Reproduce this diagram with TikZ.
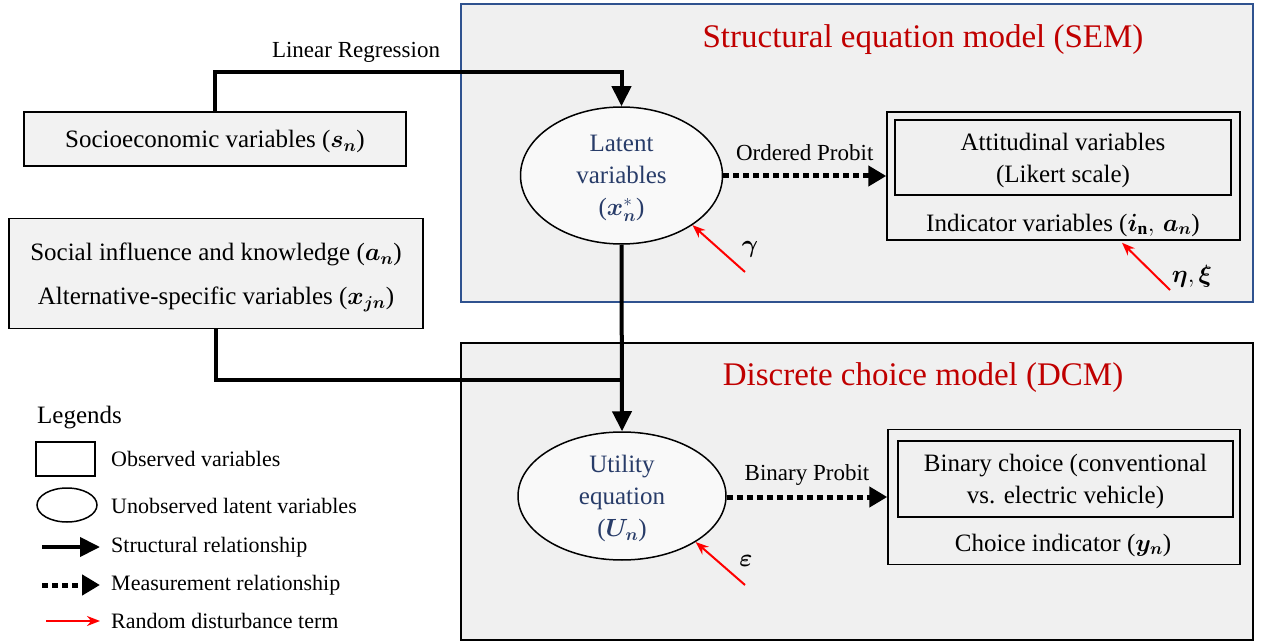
\documentclass[tikz,border=0pt]{standalone}
\usepackage{fontspec}
\setmainfont{Liberation Serif}
\usepackage{bm}
\usetikzlibrary{shapes.geometric,arrows.meta}
\definecolor{panelgray}{RGB}{240,240,240}
\definecolor{boxgray}{RGB}{242,242,242}
\definecolor{ellgray}{RGB}{249,249,249}
\definecolor{titlered}{RGB}{192,0,0}
\definecolor{semblue}{RGB}{47,82,143}
\definecolor{latentblue}{RGB}{40,60,105}
\tikzset{
    obsbox/.style={draw, fill=boxgray, line width=1.5pt, align=center, inner sep=0pt, text depth=-9pt},
    latentvar/.style={ellipse, draw, fill=ellgray, line width=1.5pt, align=center, text=latentblue, inner sep=0pt, text depth=-7pt},
    structural/.style={line width=4pt, -{Triangle[length=20pt,width=19pt]}},
    measurement/.style={line width=5pt, dash pattern=on 6pt off 4pt, -{Triangle[length=18pt,width=20pt]}},
    disturbance/.style={red, line width=2pt, -{Stealth[length=13pt,width=10pt]}},
    smalltext/.style={font=\fontsize{23}{27}\selectfont},
    legtext/.style={font=\fontsize{22}{26}\selectfont, anchor=west, inner sep=0pt},
    paneltitle/.style={text=titlered, font=\fontsize{33}{38}\selectfont}
}
\begin{document}
\begin{tikzpicture}[x=1pt, y=-1pt, font=\fontsize{25}{32}\selectfont]
        \useasboundingbox (0,0) rectangle (1261,644);
        \draw[semblue, line width=1.5pt, fill=panelgray] (461,4) rectangle (1253,302);
        \draw[line width=1.5pt, fill=panelgray] (461,343) rectangle (1253,640);
        \node[paneltitle] (semtitle) at (923,40) {Structural equation model (SEM)};
        \node[paneltitle] (dcmtitle) at (923,378) {Discrete choice model (DCM)};

        \node[obsbox, minimum width=382pt, minimum height=54pt] (socio) at (215,139) {Socioeconomic variables ($\bm{s}_{\bm{n}}$)};
        \node[obsbox, minimum width=414pt, minimum height=110pt, font=\fontsize{25}{44}\selectfont, text depth=-13pt] (social) at (216,273.5)
            {Social influence and knowledge ($\bm{a}_{\bm{n}}$)\\Alternative-specific variables ($\bm{x}_{\bm{jn}}$)};

        \node[latentvar, minimum width=202pt, minimum height=137pt] (latent) at (621.5,175.5) {Latent\\variables\\($\bm{x}_{\bm{n}}^{*}$)};
        \node[latentvar, minimum width=208pt, minimum height=128pt, text depth=-6pt] (utility) at (622,496) {Utility\\equation\\($\bm{U}_{\bm{n}}$)};

        \node[draw, line width=1.5pt, minimum width=353pt, minimum height=128pt] (attitude) at (1063.5,176) {};
        \node[draw, line width=1.5pt, align=center, minimum width=336pt, minimum height=75pt, inner sep=0pt, text depth=-4pt] (attin) at (1063,157.5) {Attitudinal variables\\(Likert scale)};
        \node (attlabel) at (1063,225) {Indicator variables ($\bm{i}_{\mathbf{n}},\,\bm{a}_{\bm{n}}$)};
        \node[draw, line width=1.5pt, minimum width=352pt, minimum height=135pt] (choice) at (1064,497) {};
        \node[draw, line width=1.5pt, align=center, minimum width=335pt, minimum height=76pt, inner sep=0pt, text depth=-2pt] (choicein) at (1065.5,479) {Binary choice (conventional\\vs. electric vehicle)};
        \node (choicelabel) at (1063,545) {Choice indicator ($\bm{y}_{\bm{n}}$)};

        \coordinate (lrtop) at (415,72);
        \coordinate (merge) at (621,380);
        \draw[structural] (socio.north) |- (lrtop) -| (latent.north);
        \node[smalltext] (lrlabel) at (356,52) {Linear Regression};
        \draw[line width=4pt] (social.south) |- (merge);
        \draw[structural] (latent.south) -- (utility.north);

        \draw[measurement] (latent.east |- attitude.west) -- node[smalltext, above=9pt] (ordlabel) {Ordered Probit} (attitude.west);
        \draw[measurement] (choice.west -| utility.east) -- node[smalltext, above=6pt] (binlabel) {Binary Probit} (choice.west);

        \coordinate (gammatail) at (745,272);
        \coordinate (etatail) at (1170,290);
        \coordinate (epstail) at (745,585);
        \draw[disturbance] (gammatail) -- (latent.-35);
        \draw[disturbance] (etatail) -- ([xshift=58.5pt, yshift=-2pt]attitude.south);
        \draw[disturbance] (epstail) -- (utility.-32);
        \node[smalltext] (gammalabel) at (750,249) {$\bm{\gamma}$};
        \node[smalltext] (etalabel) at (1192,276) {$\bm{\eta},\bm{\xi}$};
        \node[smalltext] (epslabel) at (746,561) {$\bm{\varepsilon}$};

        \node[legtext, font=\fontsize{25}{30}\selectfont] (legtitle) at (37,418) {Legends};
        \node[draw, line width=1.5pt, minimum width=59pt, minimum height=34pt] (legobs) at (65.5,459) {};
        \node[ellipse, draw, line width=1.5pt, minimum width=60pt, minimum height=34pt] (leglat) at (67,505) {};
        \node[legtext] (legobstext) at (111,459) {Observed variables};
        \node[legtext] (leglattext) at (111,506) {Unobserved latent variables};
        \node[legtext] (legstruct) at (111,547) {Structural relationship};
        \node[legtext] (legmeas) at (111,585) {Measurement relationship};
        \node[legtext] (legrand) at (111,621) {Random disturbance term};
        \coordinate (legstail) at (42,547);
        \coordinate (legmtail) at (42,585);
        \coordinate (legrtail) at (46,621);
        \draw[structural] (legstail) -- ([xshift=-11pt]legstruct.west);
        \draw[measurement] (legmtail) -- ([xshift=-11pt]legmeas.west);
        \draw[disturbance] (legrtail) -- ([xshift=-11pt]legrand.west);
    \end{tikzpicture}
\end{document}
